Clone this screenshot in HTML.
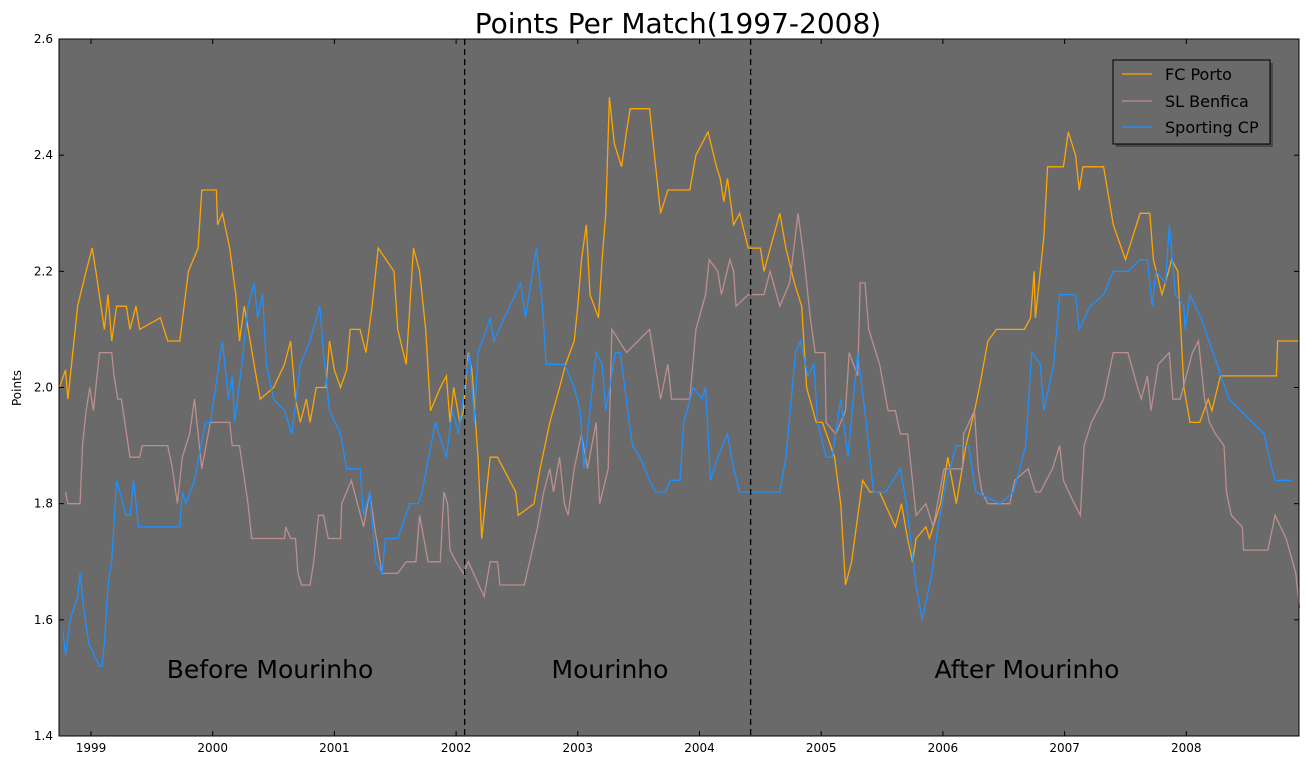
<!DOCTYPE html>
<html><head><meta charset="utf-8"><style>
body{margin:0;background:#fff;}
svg{display:block;font-family:"DejaVu Sans","Liberation Sans",sans-serif;}
</style></head><body>
<svg id="chart" width="1308" height="766">
<text x="678" y="33" font-size="28" text-anchor="middle">Points Per Match(1997-2008)</text>
<rect x="59" y="39" width="1240" height="697" fill="#6a6a6a"/>
<g id="marks"></g>
<text transform="translate(21,388) rotate(-90)" font-size="12" text-anchor="middle">Points</text>
<text x="270" y="678" font-size="25" text-anchor="middle">Before Mourinho</text>
<text x="610" y="678" font-size="25" text-anchor="middle">Mourinho</text>
<text x="1027" y="678" font-size="25" text-anchor="middle">After Mourinho</text>
<g>
<rect x="1116" y="63" width="157" height="84" fill="#333" opacity="0.6"/>
<rect x="1113" y="60" width="157" height="84" fill="#6a6a6a" stroke="#000" stroke-width="1"/>
<g><line x1="1122" y1="74" x2="1152" y2="74" stroke="#ffa500" stroke-width="1.3"/><text x="1165" y="80" font-size="16">FC Porto</text></g>
<g><line x1="1122" y1="101" x2="1152" y2="101" stroke="#bc8f8f" stroke-width="1.3"/><text x="1165" y="107" font-size="16">SL Benfica</text></g>
<g><line x1="1122" y1="127" x2="1152" y2="127" stroke="#1e90ff" stroke-width="1.3"/><text x="1165" y="133" font-size="16">Sporting CP</text></g>
</g>
</svg>
<script>
const yTicks=[1.4,1.6,1.8,2.0,2.2,2.4,2.6];
const xTicks=[1999,2000,2001,2002,2003,2004,2005,2006,2007,2008];
const eraBoundaries=[2002.07,2004.42];
const portoData=[[1998.74,2.00],[1998.79,2.03],[1998.81,1.98],[1998.86,2.08],[1998.89,2.14],[1998.96,2.20],[1999.01,2.24],[1999.04,2.20],[1999.11,2.10],[1999.14,2.16],[1999.17,2.08],[1999.21,2.14],[1999.29,2.14],[1999.32,2.10],[1999.37,2.14],[1999.40,2.10],[1999.57,2.12],[1999.63,2.08],[1999.73,2.08],[1999.80,2.20],[1999.88,2.24],[1999.91,2.34],[1999.98,2.34],[2000.03,2.34],[2000.04,2.28],[2000.08,2.30],[2000.14,2.24],[2000.19,2.16],[2000.22,2.08],[2000.26,2.14],[2000.34,2.04],[2000.39,1.98],[2000.50,2.00],[2000.59,2.04],[2000.64,2.08],[2000.68,1.98],[2000.72,1.94],[2000.77,1.98],[2000.80,1.94],[2000.85,2.00],[2000.93,2.00],[2000.96,2.08],[2001.00,2.03],[2001.05,2.00],[2001.10,2.03],[2001.13,2.10],[2001.21,2.10],[2001.26,2.06],[2001.31,2.14],[2001.36,2.24],[2001.49,2.20],[2001.52,2.10],[2001.59,2.04],[2001.65,2.24],[2001.70,2.20],[2001.75,2.10],[2001.79,1.96],[2001.87,2.00],[2001.92,2.02],[2001.95,1.94],[2001.98,2.00],[2002.03,1.94],[2002.06,1.96],[2002.10,2.06],[2002.13,2.03],[2002.18,1.88],[2002.21,1.74],[2002.25,1.82],[2002.28,1.88],[2002.34,1.88],[2002.49,1.82],[2002.51,1.78],[2002.64,1.80],[2002.69,1.86],[2002.77,1.94],[2002.85,2.00],[2002.90,2.04],[2002.97,2.08],[2003.00,2.14],[2003.03,2.22],[2003.07,2.28],[2003.10,2.16],[2003.17,2.12],[2003.20,2.22],[2003.23,2.30],[2003.26,2.50],[2003.30,2.42],[2003.36,2.38],[2003.40,2.44],[2003.43,2.48],[2003.59,2.48],[2003.64,2.38],[2003.68,2.30],[2003.74,2.34],[2003.92,2.34],[2003.97,2.40],[2004.07,2.44],[2004.14,2.38],[2004.17,2.36],[2004.20,2.32],[2004.23,2.36],[2004.28,2.28],[2004.33,2.30],[2004.40,2.24],[2004.50,2.24],[2004.53,2.20],[2004.66,2.30],[2004.71,2.24],[2004.78,2.18],[2004.84,2.14],[2004.88,2.00],[2004.96,1.94],[2005.01,1.94],[2005.11,1.88],[2005.16,1.80],[2005.20,1.66],[2005.25,1.70],[2005.34,1.84],[2005.40,1.82],[2005.48,1.82],[2005.61,1.76],[2005.66,1.80],[2005.71,1.74],[2005.75,1.70],[2005.78,1.74],[2005.86,1.76],[2005.89,1.74],[2005.98,1.80],[2006.04,1.88],[2006.11,1.80],[2006.19,1.90],[2006.26,1.96],[2006.30,2.00],[2006.37,2.08],[2006.44,2.10],[2006.67,2.10],[2006.72,2.12],[2006.75,2.20],[2006.76,2.12],[2006.83,2.26],[2006.86,2.38],[2006.99,2.38],[2007.03,2.44],[2007.09,2.40],[2007.12,2.34],[2007.15,2.38],[2007.32,2.38],[2007.40,2.28],[2007.50,2.22],[2007.62,2.30],[2007.70,2.30],[2007.73,2.22],[2007.80,2.16],[2007.88,2.22],[2007.93,2.20],[2007.98,2.00],[2008.03,1.94],[2008.11,1.94],[2008.18,1.98],[2008.21,1.96],[2008.28,2.02],[2008.74,2.02],[2008.75,2.08],[2008.93,2.08]];
const benficaData=[[1998.79,1.82],[1998.81,1.80],[1998.91,1.80],[1998.93,1.90],[1998.96,1.96],[1998.99,2.00],[1999.02,1.96],[1999.07,2.06],[1999.17,2.06],[1999.19,2.02],[1999.22,1.98],[1999.25,1.98],[1999.32,1.88],[1999.40,1.88],[1999.42,1.90],[1999.63,1.90],[1999.67,1.86],[1999.71,1.80],[1999.75,1.88],[1999.81,1.92],[1999.85,1.98],[1999.88,1.92],[1999.91,1.86],[1999.98,1.94],[2000.14,1.94],[2000.16,1.90],[2000.22,1.90],[2000.29,1.80],[2000.32,1.74],[2000.59,1.74],[2000.60,1.76],[2000.64,1.74],[2000.68,1.74],[2000.70,1.68],[2000.73,1.66],[2000.80,1.66],[2000.83,1.70],[2000.87,1.78],[2000.91,1.78],[2000.95,1.74],[2001.05,1.74],[2001.06,1.80],[2001.14,1.84],[2001.19,1.80],[2001.24,1.76],[2001.29,1.82],[2001.33,1.76],[2001.39,1.68],[2001.52,1.68],[2001.59,1.70],[2001.67,1.70],[2001.70,1.78],[2001.77,1.70],[2001.87,1.70],[2001.90,1.82],[2001.93,1.80],[2001.95,1.72],[2002.00,1.70],[2002.06,1.68],[2002.10,1.70],[2002.23,1.64],[2002.28,1.70],[2002.34,1.70],[2002.36,1.66],[2002.56,1.66],[2002.67,1.76],[2002.72,1.82],[2002.77,1.86],[2002.80,1.82],[2002.85,1.88],[2002.89,1.80],[2002.92,1.78],[2002.97,1.86],[2003.03,1.92],[2003.08,1.86],[2003.15,1.94],[2003.18,1.80],[2003.25,1.86],[2003.28,2.10],[2003.40,2.06],[2003.59,2.10],[2003.68,1.98],[2003.74,2.04],[2003.77,1.98],[2003.92,1.98],[2003.97,2.10],[2004.05,2.16],[2004.08,2.22],[2004.15,2.20],[2004.18,2.16],[2004.25,2.22],[2004.28,2.20],[2004.30,2.14],[2004.40,2.16],[2004.53,2.16],[2004.58,2.20],[2004.66,2.14],[2004.74,2.18],[2004.81,2.30],[2004.86,2.22],[2004.91,2.12],[2004.95,2.06],[2005.03,2.06],[2005.04,1.94],[2005.12,1.92],[2005.20,1.96],[2005.23,2.06],[2005.30,2.02],[2005.32,2.18],[2005.36,2.18],[2005.39,2.10],[2005.48,2.04],[2005.55,1.96],[2005.61,1.96],[2005.65,1.92],[2005.71,1.92],[2005.73,1.88],[2005.78,1.78],[2005.86,1.80],[2005.92,1.76],[2006.01,1.86],[2006.16,1.86],[2006.17,1.92],[2006.26,1.96],[2006.29,1.86],[2006.32,1.82],[2006.37,1.80],[2006.55,1.80],[2006.59,1.84],[2006.70,1.86],[2006.76,1.82],[2006.80,1.82],[2006.90,1.86],[2006.96,1.90],[2006.99,1.84],[2007.08,1.80],[2007.13,1.78],[2007.16,1.90],[2007.22,1.94],[2007.32,1.98],[2007.40,2.06],[2007.52,2.06],[2007.60,2.00],[2007.63,1.98],[2007.68,2.02],[2007.71,1.96],[2007.77,2.04],[2007.86,2.06],[2007.89,1.98],[2007.95,1.98],[2008.05,2.06],[2008.10,2.08],[2008.15,1.98],[2008.19,1.94],[2008.24,1.92],[2008.31,1.90],[2008.33,1.82],[2008.37,1.78],[2008.46,1.76],[2008.47,1.72],[2008.67,1.72],[2008.73,1.78],[2008.82,1.74],[2008.90,1.68],[2008.93,1.62]];
const sportingData=[[1998.77,1.58],[1998.79,1.54],[1998.83,1.60],[1998.89,1.64],[1998.91,1.68],[1998.94,1.62],[1998.98,1.56],[1999.07,1.52],[1999.09,1.52],[1999.11,1.56],[1999.14,1.66],[1999.17,1.70],[1999.21,1.84],[1999.29,1.78],[1999.32,1.78],[1999.35,1.84],[1999.39,1.76],[1999.73,1.76],[1999.75,1.82],[1999.78,1.80],[1999.85,1.84],[1999.94,1.94],[1999.98,1.94],[2000.01,1.98],[2000.08,2.08],[2000.13,1.98],[2000.16,2.02],[2000.18,1.94],[2000.24,2.04],[2000.29,2.14],[2000.34,2.18],[2000.37,2.12],[2000.41,2.16],[2000.44,2.04],[2000.50,1.98],[2000.59,1.96],[2000.65,1.92],[2000.72,2.04],[2000.80,2.08],[2000.88,2.14],[2000.91,2.06],[2000.96,1.96],[2001.05,1.92],[2001.10,1.86],[2001.21,1.86],[2001.24,1.78],[2001.29,1.82],[2001.34,1.70],[2001.39,1.68],[2001.42,1.74],[2001.52,1.74],[2001.62,1.80],[2001.69,1.80],[2001.72,1.82],[2001.83,1.94],[2001.92,1.88],[2001.97,1.96],[2002.02,1.92],[2002.08,2.02],[2002.11,2.06],[2002.15,1.94],[2002.18,2.06],[2002.25,2.10],[2002.28,2.12],[2002.31,2.08],[2002.53,2.18],[2002.57,2.12],[2002.66,2.24],[2002.71,2.14],[2002.74,2.04],[2002.80,2.04],[2002.89,2.04],[2002.97,2.00],[2003.02,1.96],[2003.05,1.86],[2003.12,2.00],[2003.15,2.06],[2003.20,2.04],[2003.23,1.96],[2003.31,2.06],[2003.35,2.06],[2003.41,1.96],[2003.45,1.90],[2003.51,1.88],[2003.59,1.84],[2003.64,1.82],[2003.72,1.82],[2003.76,1.84],[2003.84,1.84],[2003.87,1.94],[2003.95,2.00],[2004.02,1.98],[2004.05,2.00],[2004.09,1.84],[2004.15,1.88],[2004.23,1.92],[2004.28,1.86],[2004.33,1.82],[2004.66,1.82],[2004.71,1.88],[2004.79,2.06],[2004.83,2.08],[2004.89,2.02],[2004.94,2.04],[2004.97,1.94],[2005.04,1.88],[2005.09,1.88],[2005.16,1.98],[2005.22,1.88],[2005.30,2.06],[2005.37,1.94],[2005.43,1.82],[2005.53,1.82],[2005.65,1.86],[2005.70,1.80],[2005.78,1.66],[2005.83,1.60],[2005.91,1.68],[2005.96,1.76],[2006.03,1.84],[2006.11,1.90],[2006.21,1.90],[2006.27,1.82],[2006.47,1.80],[2006.58,1.82],[2006.68,1.90],[2006.73,2.06],[2006.80,2.04],[2006.83,1.96],[2006.91,2.04],[2006.96,2.16],[2007.09,2.16],[2007.12,2.10],[2007.21,2.14],[2007.32,2.16],[2007.40,2.20],[2007.52,2.20],[2007.62,2.22],[2007.68,2.22],[2007.72,2.14],[2007.75,2.20],[2007.83,2.18],[2007.86,2.28],[2007.91,2.16],[2007.98,2.14],[2007.99,2.10],[2008.03,2.16],[2008.12,2.12],[2008.22,2.06],[2008.35,1.98],[2008.64,1.92],[2008.68,1.88],[2008.73,1.84],[2008.86,1.84]];

const X0=59,X1=1299,Y0=39,Y1=736;
const xMin=1998.737,xMax=2008.926,yMin=1.4,yMax=2.6;
function xs(v){return X0+(v-xMin)/(xMax-xMin)*(X1-X0);}
function ys(v){return Y1-(v-yMin)/(yMax-yMin)*(Y1-Y0);}
const NS="http://www.w3.org/2000/svg";
const svg=document.getElementById('chart');
const g=document.getElementById('marks');
function mk(t,a,p){const e=document.createElementNS(NS,t);for(const k in a)e.setAttribute(k,a[k]);(p||g).appendChild(e);return e;}

const series=[[portoData,'#ffa500','porto-line'],[benficaData,'#bc8f8f','benfica-line'],[sportingData,'#1e90ff','sporting-line']];
series.forEach(s=>{
  const p=mk('polyline',{points:s[0].map(d=>xs(d[0]).toFixed(1)+','+ys(d[1]).toFixed(1)).join(' '),fill:'none',stroke:s[1],'stroke-width':1.3});
  
  
});
eraBoundaries.forEach((b,i)=>{
  const l=mk('line',{x1:xs(b),x2:xs(b),y1:Y0,y2:Y1,stroke:'#000','stroke-width':1.3,'stroke-dasharray':'6,4'});
  
  
});
const frame=mk('rect',{x:X0,y:Y0,width:X1-X0,height:Y1-Y0,fill:'none',stroke:'#000','stroke-width':1});


yTicks.forEach(t=>{
  const y=ys(t);
  mk('line',{x1:X0,x2:X0+5,y1:y,y2:y,stroke:'#000'});
  mk('line',{x1:X1-5,x2:X1,y1:y,y2:y,stroke:'#000'});
  const tx=mk('text',{x:X0-6,y:y+4,'font-size':12,'text-anchor':'end'},svg);
  tx.textContent=t.toFixed(1);
  
  
});
xTicks.forEach(t=>{
  const x=xs(t);
  mk('line',{x1:x,x2:x,y1:Y1-5,y2:Y1,stroke:'#000'});
  mk('line',{x1:x,x2:x,y1:Y0,y2:Y0+5,stroke:'#000'});
  const tx=mk('text',{x:x,y:Y1+16,'font-size':12,'text-anchor':'middle'},svg);
  tx.textContent=t;
  
  
});
</script>
</body></html>
